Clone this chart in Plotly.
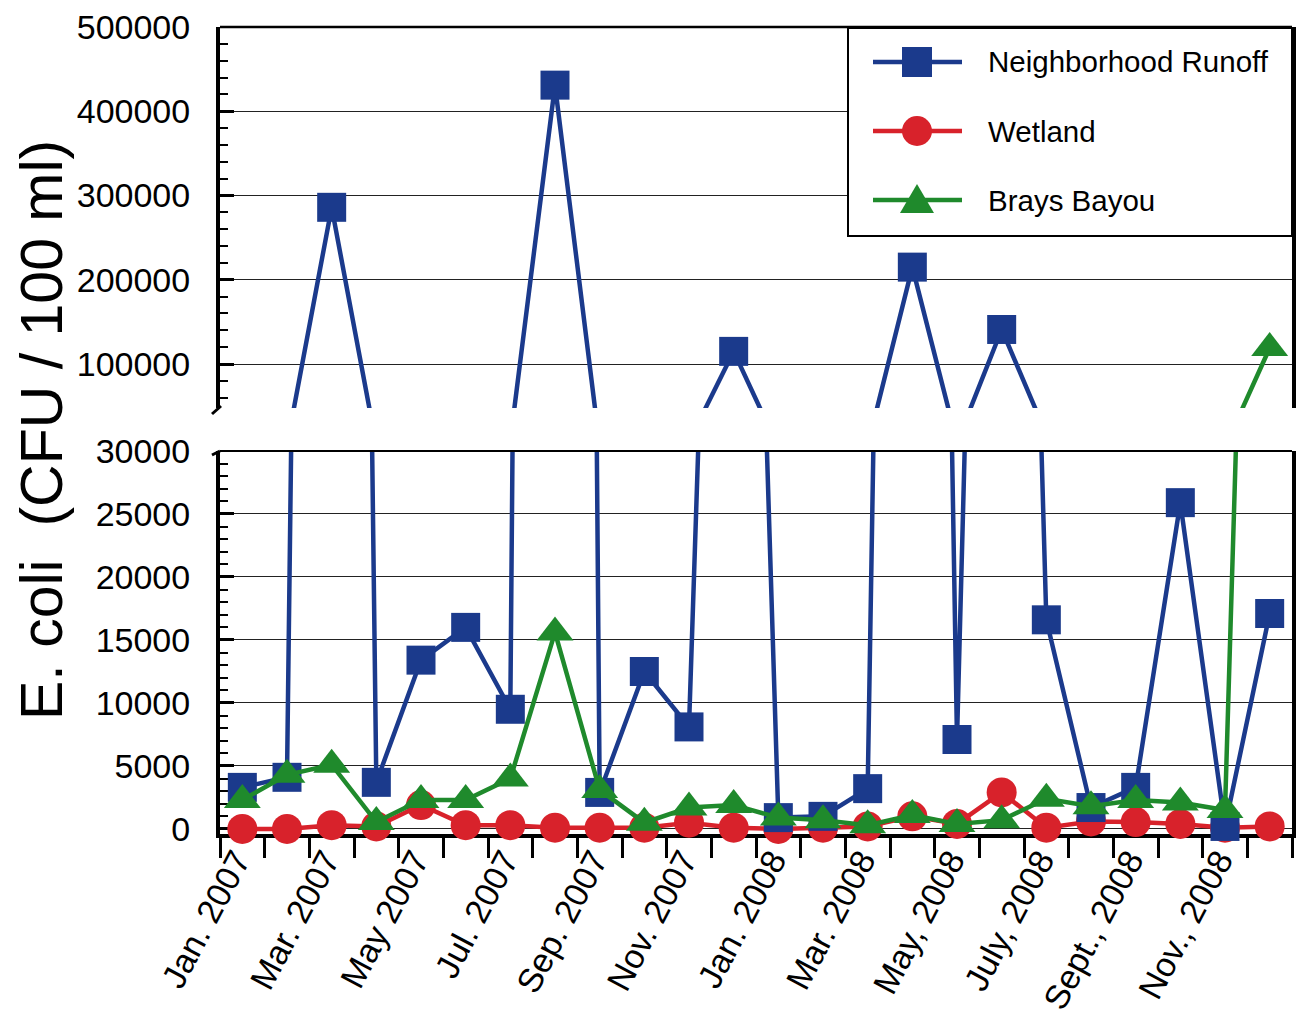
import plotly.graph_objects as go

# ---------------- data ----------------
months = ["Jan. 2007", "Feb. 2007", "Mar. 2007", "Apr. 2007", "May 2007", "Jun. 2007",
          "Jul. 2007", "Aug. 2007", "Sep. 2007", "Oct. 2007", "Nov. 2007", "Dec. 2007",
          "Jan. 2008", "Feb. 2008", "Mar. 2008", "Apr. 2008", "May, 2008", "June, 2008",
          "July, 2008", "Aug., 2008", "Sept., 2008", "Oct., 2008", "Nov., 2008", "Dec., 2008"]
tick_labels = ["Jan. 2007", "Mar. 2007", "May 2007", "Jul. 2007", "Sep. 2007", "Nov. 2007",
               "Jan. 2008", "Mar. 2008", "May, 2008", "July, 2008", "Sept., 2008", "Nov., 2008"]

runoff = [3300, 4100, 286000, 3700, 13400, 16000, 9500, 431000, 2900, 12500, 8100, 115000,
          900, 1000, 3200, 215000, 7100, 141000, 16600, 1700, 3300, 25900, 200, 17100]
wetland = [0, 0, 300, 200, 1900, 300, 300, 100, 100, 100, 500, 100,
           0, 100, 200, 1000, 400, 2900, 100, 600, 550, 400, 100, 200]
brays = [2300, 4300, 5100, 550, 2300, 2300, 4000, 15600, 3100, 500, 1700, 1900,
         900, 700, 300, 1100, 400, 700, 2400, 1800, 2300, 2100, 1500, 119000]

series_names = ["Neighborhood Runoff", "Wetland", "Brays Bayou"]

# ---------------- styling ----------------
BLUE = "#1b3a8c"
RED = "#d8222b"
GREEN = "#1f8a2c"
FONT = "Liberation Sans, Arial, Helvetica, sans-serif"

OFF = 8  # page body margin offset
W, H = 1306, 1019
# desired screen positions of the plot area
S_LEFT, S_RIGHT, S_TOP, S_BOT = 220, 1292, 27, 834
ML, MT = S_LEFT - OFF, S_TOP - OFF
PW, PH = S_RIGHT - S_LEFT, S_BOT - S_TOP
MR, MB = W - ML - PW, H - MT - PH

LOW_RANGE = [-400, 30000]
HIGH_RANGE = [47800, 500000]
LOW_TOP_PX = 451
HIGH_BOT_PX = 408
low_dom = [0, (S_BOT - LOW_TOP_PX) / PH]
high_dom = [(S_BOT - HIGH_BOT_PX) / PH, 1]

def px_x(p):
    return (p - S_LEFT) / PW

def px_y(p):
    return (S_BOT - p) / PH

x = list(range(len(months)))
tick_pos = [x[months.index(t)] for t in tick_labels]

fig = go.Figure()

specs = [
    (wetland, RED, "circle", 30, "Wetland"),
    (runoff, BLUE, "square", 29, "Neighborhood Runoff"),
    (brays, GREEN, "triangle-up", 32, "Brays Bayou"),
]

for vals, col, sym, sz, name in specs:
    for yax, rng in (("y", LOW_RANGE), ("y2", HIGH_RANGE)):
        fig.add_trace(go.Scatter(
            x=x, y=vals, yaxis=yax, mode="lines", name=name,
            line=dict(color=col, width=4.5), showlegend=False, hoverinfo="skip"))
        inrange = [v if rng[0] <= v <= rng[1] else None for v in vals]
        fig.add_trace(go.Scatter(
            x=x, y=inrange, yaxis=yax, mode="markers", name=name,
            marker=dict(color=col, symbol=sym, size=sz, line=dict(width=0)),
            cliponaxis=False, showlegend=False))

# ---------------- axes ----------------
fig.update_layout(
    width=W, height=H, autosize=False,
    margin=dict(l=ML, r=MR, t=MT, b=MB, pad=0, autoexpand=False),
    paper_bgcolor="white", plot_bgcolor="white",
    font=dict(family=FONT, size=34, color="black"),
    showlegend=False,
    xaxis=dict(
        range=[-0.5, len(months) - 0.5], automargin=False,
        tickmode="array", tickvals=tick_pos, ticktext=tick_labels,
        tickangle=-62, ticks="outside", ticklen=0, tickwidth=3, tickcolor="black",
        ticklabelstandoff=-11, ticklabelshift=-6, ticklabeloverflow="allow",
        tickfont=dict(family=FONT, size=34, color="black"),
        minor=dict(tickmode="array", tickvals=[i - 0.5 for i in range(len(months) + 1)],
                   ticks="outside", ticklen=20, tickwidth=3, tickcolor="black", showgrid=False),
        showline=True, linewidth=4, linecolor="black",
        showgrid=False, zeroline=False, layer="below traces",
        anchor="y",
    ),
    yaxis=dict(
        domain=low_dom, range=LOW_RANGE, automargin=False,
        tickmode="array", tickvals=[0, 5000, 10000, 15000, 20000, 25000, 30000],
        ticktext=["0", "5000", "10000", "15000", "20000", "25000", "30000"],
        ticks="inside", ticklen=14, tickwidth=3, tickcolor="black",
        ticklabelstandoff=19, ticklabeloverflow="allow",
        tickfont=dict(family=FONT, size=34, color="black"),
        minor=dict(tick0=0, dtick=1000, ticks="inside", ticklen=8, tickwidth=2,
                   tickcolor="black", showgrid=False),
        showline=True, linewidth=4, linecolor="black", mirror=True,
        showgrid=True, gridcolor="#222222", gridwidth=1.3,
        zeroline=False, layer="below traces", anchor="x",
    ),
    yaxis2=dict(
        domain=high_dom, range=HIGH_RANGE, automargin=False,
        tickmode="array", tickvals=[100000, 200000, 300000, 400000, 500000],
        ticktext=["100000", "200000", "300000", "400000", "500000"],
        ticks="inside", ticklen=14, tickwidth=3, tickcolor="black",
        ticklabelstandoff=19, ticklabeloverflow="allow",
        tickfont=dict(family=FONT, size=34, color="black"),
        minor=dict(tick0=0, dtick=20000, ticks="inside", ticklen=8, tickwidth=2,
                   tickcolor="black", showgrid=False),
        showline=True, linewidth=4, linecolor="black", mirror=True,
        showgrid=True, gridcolor="#222222", gridwidth=1.3,
        zeroline=False, layer="below traces", anchor="x",
    ),
)

shapes = []
# panel top borders
shapes.append(dict(type="line", xref="paper", yref="paper", x0=0, x1=1,
                   y0=high_dom[1], y1=high_dom[1], line=dict(color="black", width=2.5)))
shapes.append(dict(type="line", xref="paper", yref="paper", x0=0, x1=1,
                   y0=low_dom[1], y1=low_dom[1], line=dict(color="black", width=2)))
# break marks on the left axis
shapes.append(dict(type="line", xref="paper", yref="paper",
                   x0=px_x(221), x1=px_x(212), y0=px_y(HIGH_BOT_PX - 2), y1=px_y(HIGH_BOT_PX + 6),
                   line=dict(color="black", width=3)))
shapes.append(dict(type="line", xref="paper", yref="paper",
                   x0=px_x(220), x1=px_x(212), y0=px_y(LOW_TOP_PX), y1=px_y(LOW_TOP_PX + 4),
                   line=dict(color="black", width=3)))

# ---------------- legend (drawn) ----------------
shapes.append(dict(type="rect", xref="paper", yref="paper",
                   x0=px_x(848), x1=px_x(1292), y0=px_y(236), y1=px_y(28),
                   line=dict(color="black", width=2), fillcolor="white", layer="above"))
annotations = []
leg_rows = [(62, BLUE, "square", series_names[0]),
            (131, RED, "circle", series_names[1]),
            (200, GREEN, "triangle", series_names[2])]
for yy, col, sym, name in leg_rows:
    shapes.append(dict(type="line", xref="paper", yref="paper",
                       x0=px_x(873), x1=px_x(962), y0=px_y(yy), y1=px_y(yy),
                       line=dict(color=col, width=4.5), layer="above"))
    cx, r = 917, 15
    if sym == "square":
        shapes.append(dict(type="rect", xref="paper", yref="paper",
                           x0=px_x(cx - r), x1=px_x(cx + r), y0=px_y(yy + r), y1=px_y(yy - r),
                           fillcolor=col, line=dict(width=0), layer="above"))
    elif sym == "circle":
        shapes.append(dict(type="circle", xref="paper", yref="paper",
                           x0=px_x(cx - r), x1=px_x(cx + r), y0=px_y(yy + r), y1=px_y(yy - r),
                           fillcolor=col, line=dict(width=0), layer="above"))
    else:
        p = "M {:.5f} {:.5f} L {:.5f} {:.5f} L {:.5f} {:.5f} Z".format(
            px_x(cx), px_y(yy - 16), px_x(cx + 17), px_y(yy + 13), px_x(cx - 17), px_y(yy + 13))
        shapes.append(dict(type="path", xref="paper", yref="paper", path=p,
                           fillcolor=col, line=dict(width=0), layer="above"))
    annotations.append(dict(xref="paper", yref="paper", x=px_x(986), y=px_y(yy),
                            text=name, showarrow=False, xanchor="left", yanchor="middle",
                            font=dict(family=FONT, size=29.5, color="black")))

# y-axis title
annotations.append(dict(xref="paper", yref="paper", x=px_x(42), y=px_y(430),
                        text="E. coli\u00a0 (CFU / 100 ml)", textangle=-90, showarrow=False,
                        xanchor="center", yanchor="middle",
                        font=dict(family=FONT, size=59, color="black")))

fig.update_layout(shapes=shapes, annotations=annotations)

fig.write_html("out.html")
